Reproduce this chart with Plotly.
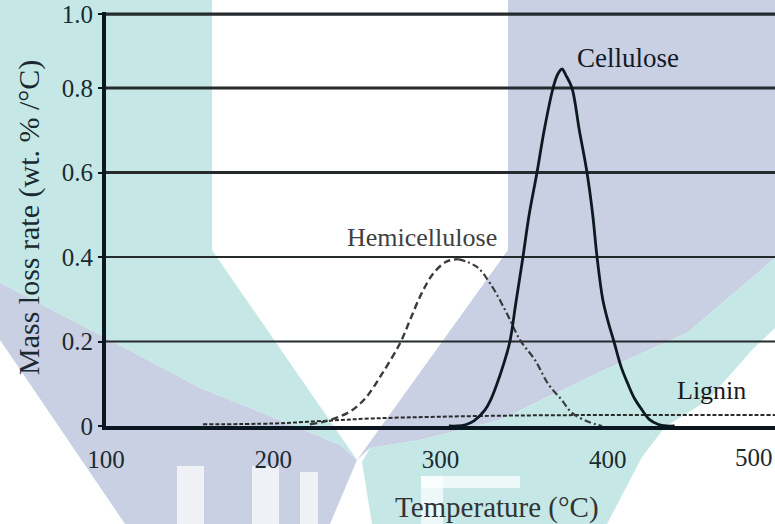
import plotly.graph_objects as go

# ---------------- data ----------------
cellulose_T = [305, 310, 315, 320, 326.6, 330, 333.8, 338, 341.5, 345, 349.3, 353, 357.7, 362, 367.3, 370, 372.6,
               375, 378.6, 383, 387.6, 391, 393.6, 397, 400, 403.7, 408, 412, 416, 420.5, 425, 430, 435, 440]
cellulose_v = [0.0, 0.0, 0.003, 0.012, 0.038, 0.062, 0.10, 0.15, 0.20, 0.29, 0.40, 0.50, 0.60, 0.70, 0.80, 0.832, 0.845,
               0.83, 0.80, 0.70, 0.60, 0.50, 0.40, 0.30, 0.25, 0.20, 0.14, 0.10, 0.065, 0.038, 0.015, 0.004, 0.0, 0.0]

hemi_T = [222, 232, 244, 250, 256, 264.8, 275.8, 281.8, 288.7, 295.7, 303.5, 310.6,
          321.6, 329.6, 339.6, 347.5, 356.5, 364.3, 372.4, 378.6, 388.4, 396.5]
hemi_v = [0.004, 0.012, 0.03, 0.046, 0.07, 0.122, 0.196, 0.251, 0.314, 0.361, 0.389, 0.395,
          0.377, 0.338, 0.267, 0.204, 0.156, 0.10, 0.062, 0.031, 0.01, 0.0]
hemi_peak = 11  # index of the maximum: dashed before, dash-dot after

lignin_T = [158, 200, 230, 260, 300, 350, 400, 450, 500]
lignin_v = [0.004, 0.006, 0.012, 0.018, 0.022, 0.025, 0.026, 0.026, 0.026]

x_ticks = [100, 200, 300, 400, 500]
y_ticks = [0, 0.2, 0.4, 0.6, 0.8, 0.975]
y_ticktext = ["0", "0.2", "0.4", "0.6", "0.8", "1.0"]

labels = [("Cellulose", 412, 0.871, "#111a22", 27),
          ("Hemicellulose", 289, 0.445, "#404040", 26),
          ("Lignin", 462, 0.083, "#1a1a1a", 26)]

# ---------------- layout geometry ----------------
W, H = 775, 524
L, R, T, B = 106, 0, 12, 98
PW, PH = W - L - R, H - T - B
FONT = "Liberation Serif, Times New Roman, serif"

def px(x):  # pixel -> paper x
    return (x - L) / PW

def py(y):  # pixel -> paper y
    return (H - B - y) / PH

def poly(pts):
    return "M " + " L ".join(f"{px(x):.4f},{py(y):.4f}" for x, y in pts) + " Z"

TEAL = "#c5e8e6"
PURPLE = "#c9d0e4"
WHITE = "#ffffff"

bg_polys = [
    (TEAL, [(0, 0), (212, 0), (212, 250), (357, 460), (340, 445), (287, 423), (200, 388), (110, 340), (0, 283)]),
    (PURPLE, [(0, 283), (110, 340), (200, 388), (287, 423), (340, 445), (357, 460), (330, 524), (125, 524), (0, 340)]),
    (PURPLE, [(508, 0), (775, 0), (775, 258), (687, 333), (600, 372), (500, 420), (420, 440), (370, 448),
              (357, 460), (508, 250)]),
    (TEAL, [(775, 258), (687, 333), (600, 372), (500, 420), (420, 440), (370, 448), (362, 462), (372, 524),
            (607, 524), (642, 457), (665, 427), (708, 400), (752, 350), (775, 328)]),
    # faint white letter strokes of the watermark
    (WHITE, [(177, 466), (204, 466), (204, 524), (177, 524)]),
    (WHITE, [(252, 466), (279, 466), (279, 524), (252, 524)]),
    (WHITE, [(300, 472), (318, 472), (318, 524), (300, 524)]),
    (WHITE, [(421, 476), (520, 476), (520, 488), (421, 488)]),
    (WHITE, [(421, 476), (443, 476), (443, 524), (421, 524)]),
]

shapes = []
for col, pts in bg_polys:
    shapes.append(dict(type="path", xref="paper", yref="paper", path=poly(pts),
                       fillcolor=col, line=dict(width=0), layer="below", opacity=1 if col != WHITE else 0.7))

# horizontal grid lines (thicker in the upper part, as in the reference)
grid_w = {0.2: 1.8, 0.4: 2.2, 0.6: 3.0, 0.8: 3.0, 0.975: 3.2}
for yv in y_ticks[1:]:
    shapes.append(dict(type="line", xref="x", yref="y", x0=100, x1=500, y0=yv, y1=yv,
                       line=dict(color="#252a2c", width=grid_w[yv]), layer="below"))

fig = go.Figure()
fig.add_trace(go.Scatter(x=lignin_T, y=lignin_v, mode="lines", name="Lignin",
                         line=dict(color="#2a2a2a", width=2, dash="4px,2px", shape="spline")))
fig.add_trace(go.Scatter(x=hemi_T[:hemi_peak + 1], y=hemi_v[:hemi_peak + 1], mode="lines", name="Hemicellulose",
                         line=dict(color="#3a3a3a", width=2.4, dash="7px,4px", shape="spline")))
fig.add_trace(go.Scatter(x=hemi_T[hemi_peak:], y=hemi_v[hemi_peak:], mode="lines", name="Hemicellulose",
                         line=dict(color="#3a3a3a", width=2.2, dash="7px,3px,2px,3px", shape="spline")))
fig.add_trace(go.Scatter(x=cellulose_T, y=cellulose_v, mode="lines", name="Cellulose",
                         line=dict(color="#0b1a22", width=2.8, shape="spline")))

annotations = []
for text, xv, yv, col, size in labels:
    annotations.append(dict(text=text, x=xv, y=yv, xref="x", yref="y", showarrow=False,
                            font=dict(family=FONT, size=size, color=col), xanchor="center", yanchor="middle"))
# last x tick label sits inside the picture edge
annotations.append(dict(text=str(x_ticks[-1]), x=x_ticks[-1], y=py(458), xref="x", yref="paper", showarrow=False,
                        font=dict(family=FONT, size=25, color="#1b2a30"), xanchor="right", yanchor="middle"))
annotations.append(dict(text="Temperature (°C)", x=px(497), y=py(507), xref="paper", yref="paper", showarrow=False,
                        font=dict(family=FONT, size=29, color="#333333"), xanchor="center", yanchor="middle"))
annotations.append(dict(text="Mass loss rate (wt. % /°C)", x=px(29), y=py(218), xref="paper", yref="paper",
                        showarrow=False, textangle=-90,
                        font=dict(family=FONT, size=30, color="#1b2a30"), xanchor="center", yanchor="middle"))

fig.update_layout(
    width=W, height=H, margin=dict(l=L, r=R, t=T, b=B, pad=0),
    paper_bgcolor="white", plot_bgcolor="rgba(0,0,0,0)",
    showlegend=False, shapes=shapes, annotations=annotations,
    font=dict(family=FONT, size=25, color="#1b2a30"),
)
fig.update_xaxes(range=[100, 500], tickvals=x_ticks[:-1], showgrid=False, zeroline=False,
                 showline=True, linecolor="#0a1620", linewidth=4,
                 ticks="outside", ticklen=8, tickcolor="rgba(0,0,0,0)",
                 tickfont=dict(family=FONT, size=25, color="#1b2a30"))
fig.update_yaxes(range=[0, PH / 422.5], tickvals=y_ticks, ticktext=y_ticktext,
                 showgrid=False, zeroline=False, showline=True, linecolor="#0a1620", linewidth=4,
                 ticks="outside", ticklen=4, tickwidth=2, tickcolor="#0a1620",
                 tickfont=dict(family=FONT, size=25, color="#1b2a30"))

fig.write_html("out.html")
